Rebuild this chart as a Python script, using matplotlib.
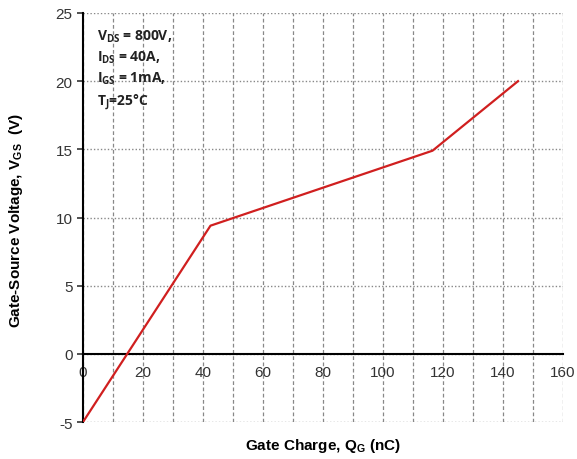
import matplotlib.pyplot as plt
from matplotlib.ticker import MultipleLocator

# gate charge curve
qg = [0, 42.5, 116.5, 145]
vgs = [-5, 9.4, 14.9, 20]

plt.rcParams["axes.unicode_minus"] = False

fig = plt.figure(figsize=(5.77, 4.6), dpi=100)
ax = fig.add_axes([0.1438, 0.0804, 0.832, 0.8892])

ax.plot(qg, vgs, color="#d01f1f", lw=1.6, zorder=3)

ax.set_xlim(0, 160)
ax.set_ylim(-5, 25)
ax.xaxis.set_major_locator(MultipleLocator(20))
ax.xaxis.set_minor_locator(MultipleLocator(10))
ax.yaxis.set_major_locator(MultipleLocator(5))

ax.grid(axis="x", which="both", color="#888888", ls=(0, (3, 2)), lw=0.9)
ax.grid(axis="y", which="major", color="#888888", ls=(0, (1, 1.5)), lw=1.0)

ax.spines["top"].set_visible(False)
ax.spines["right"].set_visible(False)
ax.spines["bottom"].set_position(("data", 0))
ax.spines["left"].set_linewidth(1.5)
ax.spines["bottom"].set_linewidth(1.5)
ax.tick_params(axis="x", which="both", length=0, labelsize=11, colors="#333333", pad=8)
ax.tick_params(axis="y", length=4, width=1.2, labelsize=11, colors="#333333")
for t in ax.get_xticklabels() + ax.get_yticklabels():
    t.set_fontfamily("Liberation Sans")

fig.text(0.56, 0.03, "Gate Charge, Q$_\\mathregular{G}$ (nC)", ha="center", va="center",
         fontsize=11, fontweight="bold", family="Liberation Sans")
fig.text(0.027, 0.52, "Gate-Source Voltage, V$_\\mathregular{GS}$  (V)", ha="center", va="center",
         rotation=90, fontsize=11, fontweight="bold", family="Liberation Sans")

cond = ("V$_\\mathregular{DS}$ = 800V,\nI$_\\mathregular{DS}$ = 40A,\n"
        "I$_\\mathregular{GS}$ = 1mA,\nT$_\\mathregular{J}$=25°C")
ax.text(0.03, 0.965, cond, transform=ax.transAxes, ha="left", va="top",
        fontsize=10, fontweight="bold", family="Open Sans", linespacing=1.4,
        color="#222222")

fig.savefig("out.png", dpi=100)
